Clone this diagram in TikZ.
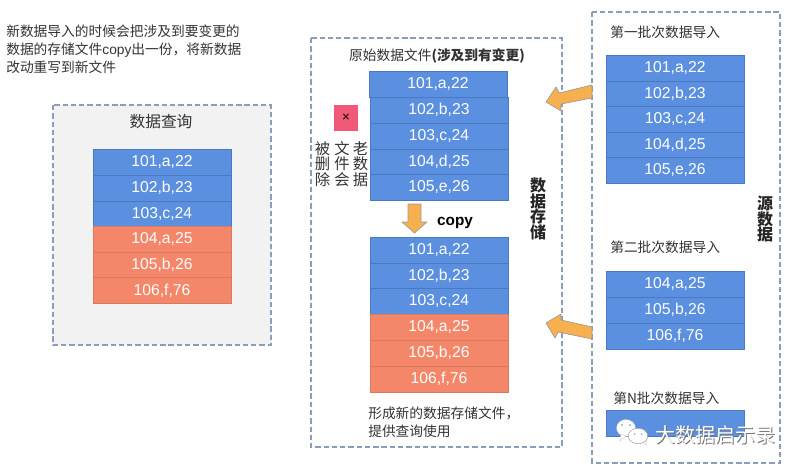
\documentclass[tikz,border=0pt]{standalone}
\usepackage{fontspec}
\setmainfont{Liberation Sans}
\newfontfamily\cjk{Noto Sans CJK SC}
\definecolor{rowblue}{HTML}{5B8FDF}
\definecolor{rowline}{HTML}{4B78BE}
\definecolor{roworange}{HTML}{F4866A}
\definecolor{orangeline}{HTML}{D87A62}
\definecolor{dashcol}{HTML}{8A9DBD}
\definecolor{arrowfill}{HTML}{F6B04F}
\definecolor{arrowline}{HTML}{9A9A9A}
\definecolor{labelcol}{HTML}{333333}
\definecolor{delpink}{HTML}{EE5A78}
\tikzset{
  px/.style={x=0.75pt,y=-0.75pt},
  rowbase/.style={minimum width=103.5pt,minimum height=19.4pt,inner sep=0pt,text=white,font=\fontsize{11.8}{13}\selectfont},
  bluerow/.style={rowbase,fill=rowblue,draw=rowline,line width=0.35pt},
  orangerow/.style={rowbase,fill=roworange,draw=orangeline,line width=0.35pt},
  dashbox/.style={draw=dashcol,line width=1.1pt,dash pattern=on 4pt off 2.2pt},
  label/.style={inner sep=0pt,text=labelcol,font=\cjk\fontsize{10.3}{13.2}\selectfont,align=left},
  vlabel/.style={inner sep=0pt,text=black!85,font=\cjk\bfseries\fontsize{12}{11.7}\selectfont,align=center},
  oldlabel/.style={inner sep=0pt,text=labelcol,font=\cjk\fontsize{11.5}{11.8}\selectfont,align=center},
  blockarrow/.style={fill=arrowfill,draw=arrowline,line width=0.5pt,line join=round},
}
\begin{document}
\begin{tikzpicture}[px]
\useasboundingbox (0,0) rectangle (800,469);
\fill[white] (0,0) rectangle (800,469);
% dashed panels
\draw[dashbox,fill=black!5] (53,105) rectangle (271,345);
\draw[dashbox] (311,38) rectangle (562,447);
\draw[dashbox] (592,12) rectangle (780,463);
% intro text
\node[label,anchor=north west] (intro) at (6,25) {新数据导入的时候会把涉及到要变更的\\数据的存储文件{\fontspec{Liberation Sans}copy}出一份，将新数据\\改动重写到新文件};
% query panel
\node[label,font=\cjk\fontsize{11.8}{14}\selectfont] (qtitle) at (161,122) {数据查询};
\node[bluerow] (q1) at (162,162) {101,a,22};
\node[bluerow] (q2) at (162,188) {102,b,23};
\node[bluerow] (q3) at (162,214) {103,c,24};
\node[orangerow] (q4) at (162,239) {104,a,25};
\node[orangerow] (q5) at (162,265) {105,b,26};
\node[orangerow] (q6) at (162,290.5) {106,f,76};
% storage panel
\node[label] (otitle) at (437,56) {原始数据文件{\bfseries (涉及到有变更)}};
\node[bluerow] (o1) at (438,84) {101,a,22};
\node[bluerow] (o2) at (439,110) {102,b,23};
\node[bluerow] (o3) at (439,136) {103,c,24};
\node[bluerow] (o4) at (439,162) {104,d,25};
\node[bluerow] (o5) at (439,187.5) {105,e,26};
\node[fill=delpink,minimum width=18pt,minimum height=19pt,inner sep=0pt,font=\fontsize{10}{10}\selectfont] (del) at (346,118) {×};
\node[oldlabel] (old1) at (360.5,164) {老\\数\\据};
\node[oldlabel] (old2) at (342,164) {文\\件\\会};
\node[oldlabel] (old3) at (322.5,164) {被\\删\\除};
\draw[blockarrow] (408,204) -- (421,204) -- (421,222) -- (427,222) -- (414.5,233) -- (402,222) -- (408,222) -- cycle;
\node[inner sep=0pt,font=\bfseries\fontsize{11.5}{13}\selectfont] (copy) at (455,223) {copy};
\node[bluerow] (n1) at (439,250) {101,a,22};
\node[bluerow] (n2) at (439,276) {102,b,23};
\node[bluerow] (n3) at (439,301.5) {103,c,24};
\node[orangerow] (n4) at (439,327) {104,a,25};
\node[orangerow] (n5) at (439,353) {105,b,26};
\node[orangerow] (n6) at (439,379) {106,f,76};
\node[label,anchor=north west] (newfile) at (368,407) {形成新的数据存储文件，\\提供查询使用};
\node[vlabel] (store) at (538,209) {数\\据\\存\\储};
% source panel
\node[label,anchor=west] (b1) at (610,32) {第一批次数据导入};
\node[bluerow] (s1) at (675,68) {101,a,22};
\node[bluerow] (s2) at (675,94) {102,b,23};
\node[bluerow] (s3) at (675,119.5) {103,c,24};
\node[bluerow] (s4) at (675,145) {104,d,25};
\node[bluerow] (s5) at (675,170.5) {105,e,26};
\node[label,anchor=west] (b2) at (610,247) {第二批次数据导入};
\node[bluerow] (t1) at (675,284) {104,a,25};
\node[bluerow] (t2) at (675,310) {105,b,26};
\node[bluerow] (t3) at (675,336) {106,f,76};
\node[label,anchor=west] (b3) at (613,398) {第N批次数据导入};
\node[bluerow] (u1) at (675,423.5) {};
\node[vlabel] (src) at (765,219) {源\\数\\据};
% block arrows
\draw[blockarrow] (546,102) -- (556,87) -- (559,93) -- (592,85) -- (592,98) -- (561,104) -- (561,111) -- cycle;
\draw[blockarrow] (546,323) -- (561,314) -- (561,320) -- (592,327) -- (592,339) -- (558,332) -- (555,338) -- cycle;
% watermark
\fill[white,draw=black!25,line width=0.2pt] (626,428) ellipse (9.5 and 8.5);
\fill[white,draw=black!25,line width=0.2pt] (620,441) -- (621,434) -- (626,436) -- cycle;
\fill[white,draw=black!25,line width=0.2pt] (646,445.5) -- (643,441) -- (646.5,440) -- cycle;
\draw[black!45,fill=white,line width=0.3pt] (638,436) ellipse (9.8 and 7.8);
\fill[rowblue!70] (622,425) circle (1.2) (630,425) circle (1.2) (634.5,434) circle (1) (641.5,434) circle (1);
\node[inner sep=0pt,text=black!55,font=\cjk\fontsize{15}{16}\selectfont,anchor=west] (markshadow) at (655.8,435.8) {大数据启示录};
\node[inner sep=0pt,text=white,font=\cjk\fontsize{15}{16}\selectfont,anchor=west] (mark) at (655,435) {大数据启示录};
\end{tikzpicture}
\end{document}
